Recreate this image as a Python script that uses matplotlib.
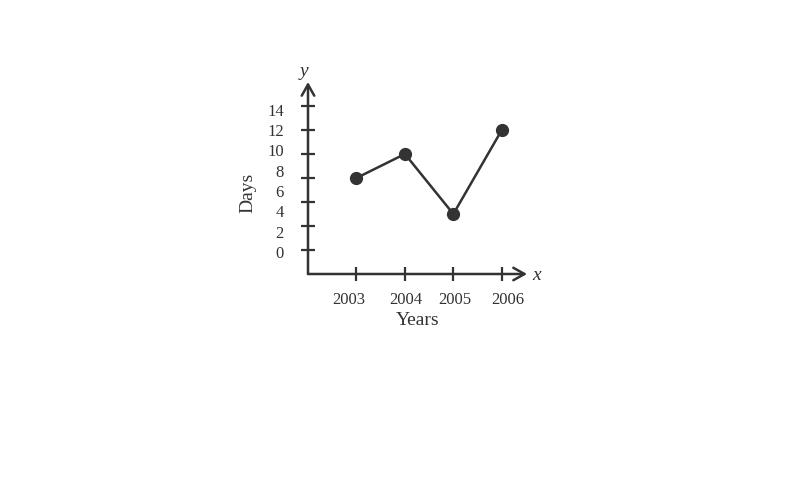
import numpy as np
import matplotlib.pyplot as plt

years = [2003, 2004, 2005, 2006]
days = [8, 10, 5, 12]
y_ticks = [2, 4, 6, 8, 10, 12, 14]
y_labels = [0, 2, 4, 6, 8, 10, 12, 14]

plt.rcParams['font.family'] = ['Liberation Serif', 'DejaVu Serif']
ink = '#333333'

fig = plt.figure(figsize=(7.86, 4.85), dpi=100)
W, H = 786, 485
x0, y0, x1, y1 = 308, 275, 527, 83  # pixel box of the axes
ax = fig.add_axes([x0 / W, 1 - y0 / H, (x1 - x0) / W, (y0 - y1) / H])
ax.set_xlim(2002, 2006.52)
ax.set_ylim(0, 16)
for s in ax.spines.values():
    s.set_visible(False)

# axis arrows
arr = dict(arrowstyle='->, head_length=0.8, head_width=0.45', color=ink, lw=1.8,
           shrinkA=0, shrinkB=0)
ax.annotate('', xy=(1, 0), xytext=(0, 0), xycoords='axes fraction', arrowprops=arr)
ax.annotate('', xy=(0, 1), xytext=(0, 0), xycoords='axes fraction', arrowprops=arr)

ax.plot(years, days, color=ink, lw=1.8, marker='o', ms=8.5, clip_on=False)

ax.set_xticks(years)
ax.set_xticklabels([])
ax.set_yticks(y_ticks)
ax.set_yticklabels([])
ax.tick_params(axis='both', direction='inout', length=10, width=1.6, color=ink)

# the printed labels drift against the tick marks in the original
x_nudge = [-0.15, 0.01, 0.03, 0.12]
for yr, dx in zip(years, x_nudge):
    ax.text(yr + dx, -0.13, str(yr), transform=ax.get_xaxis_transform(),
            ha='center', va='center', fontsize=12, color=ink)
for v in y_labels:
    ax.text(-0.11, (1.75 + 0.847 * v) / 16, str(v), transform=ax.transAxes,
            ha='right', va='center', fontsize=12, color=ink)

ax.text(-0.275, 0.43, 'Days', transform=ax.transAxes, rotation=90,
        ha='center', va='center', fontsize=14, color=ink)
ax.text(0.5, -0.235, 'Years', transform=ax.transAxes,
        ha='center', va='center', fontsize=14, color=ink)
ax.text(1.045, 0, 'x', transform=ax.transAxes, style='italic',
        ha='center', va='center', fontsize=14, color=ink)
ax.text(-0.02, 1.06, 'y', transform=ax.transAxes, style='italic',
        ha='center', va='center', fontsize=14, color=ink)

fig.savefig('out.png', dpi=100)
